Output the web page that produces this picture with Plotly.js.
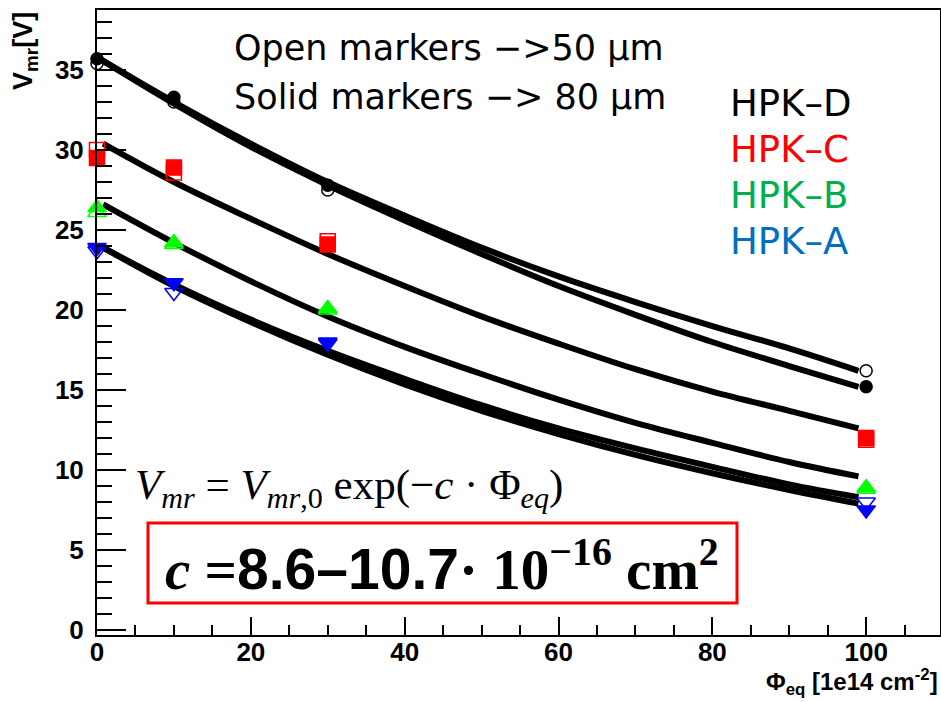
<!DOCTYPE html>
<html>
<head>
<meta charset="utf-8">
<script src="https://cdn.plot.ly/plotly-3.0.1.min.js"></script>
<style>html,body{margin:0;padding:0;background:#fff}#chart{width:941px;height:702px}</style>
</head>
<body>
<div id="chart"></div>
<script>
// Fluence points (1e14 cm^-2)
const fluence = [0, 10, 30, 100];
// Measured V_mr [V]: open markers = 50 um, solid markers = 80 um
const dOpen  = [35.4, 33.0, 27.5, 16.2];
const dSolid = [35.7, 33.3, 27.8, 15.2];
const cOpen  = [30.0, 28.6, 24.3, 11.9];
const cSolid = [29.5, 28.9, 24.1, 12.0];
const bOpen  = [26.1, 24.1, 20.0, 8.8];
const bSolid = [26.4, 24.2, 20.1, 8.9];
const aOpen  = [23.7, 21.1, 17.9, 8.0];
const aSolid = [23.9, 21.7, 18.0, 7.5];

// Fit curves
const fitXD = [0, 10, 20, 30, 40, 50, 60, 70, 80, 90, 99];
const fitX  = [0.8, 10, 20, 30, 40, 50, 60, 70, 80, 90, 99];
const fitDOpen  = [35.8, 33.0, 30.4, 28.0, 25.9, 23.9, 22.1, 20.5, 19.0, 17.6, 16.2];
const fitDSolid = [35.8, 32.9, 30.2, 27.8, 25.6, 23.5, 21.5, 19.7, 18.0, 16.5, 15.2];
const fitC      = [30.4, 28.0, 25.7, 23.5, 21.5, 19.6, 17.9, 16.3, 14.9, 13.7, 12.6];
const fitB      = [26.6, 24.2, 21.8, 19.6, 17.7, 16.0, 14.4, 12.95, 11.7, 10.5, 9.6];
const fitAOpen  = [23.9, 21.6, 19.4, 17.45, 15.7, 14.05, 12.6, 11.35, 10.2, 9.1, 8.3];
const fitASolid = [23.9, 21.5, 19.25, 17.2, 15.35, 13.7, 12.25, 10.95, 9.8, 8.75, 7.9];

const sensorNames = ['HPK–D', 'HPK–C', 'HPK–B', 'HPK–A'];
const sensorTextColors = ['#000000', '#ff0000', '#00b050', '#0070c0'];

function fit(x, y) {
  return {x: x, y: y, type: 'scatter', mode: 'lines', line: {color: '#000', width: 6, shape: 'spline'},
          hoverinfo: 'skip', showlegend: false, cliponaxis: false};
}
function pts(y, symbol, color, size) {
  return {x: fluence, y: y, type: 'scatter', mode: 'markers', cliponaxis: false, showlegend: false,
          marker: {symbol: symbol, color: color, size: size, line: {color: color, width: 1.5}}};
}

const traces = [
  fit(fitXD, fitDOpen), fit(fitXD, fitDSolid), fit(fitX, fitC), fit(fitX, fitB),
  fit(fitX, fitAOpen), fit(fitX, fitASolid),
  pts(dOpen, 'circle-open', '#000', 12),
  pts(cOpen, 'square-open', '#ff0000', 15),
  pts(bOpen, 'triangle-up-open', '#00ff00', 16),
  pts(aOpen, 'triangle-down-open', '#0000ff', 16),
  pts(dSolid, 'circle', '#000', 12),
  pts(cSolid, 'square', '#ff0000', 15),
  pts(bSolid, 'triangle-up', '#00ff00', 16),
  pts(aSolid, 'triangle-down', '#0000ff', 16)
];

const L = 97, R = 940, T = 10, B = 635;
const W = R - L, H = B - T;
function px(x) { return (x - L) / W; }
function py(y) { return (B - y) / H; }

const annotations = [
  {text: 'Open markers −>50 µm', x: px(232), y: py(48), xanchor: 'left', yanchor: 'middle',
   font: {family: 'DejaVu Sans', size: 35, color: '#000'}},
  {text: 'Solid markers −> 80 µm', x: px(232), y: py(97), xanchor: 'left', yanchor: 'middle',
   font: {family: 'DejaVu Sans', size: 35, color: '#000'}},
  {text: '<i>V</i><sub><i>mr</i></sub> = <i>V</i><sub><i>mr</i>,0</sub> exp(−<i>c</i> · Φ<sub><i>eq</i></sub>)',
   x: px(133), y: py(488), xanchor: 'left', yanchor: 'middle',
   font: {family: 'Liberation Serif', size: 43, color: '#000'}},
  {text: '<b><i>c</i> =</b><span style="font-family:\'Liberation Sans\'"><b>8.6–10.7</b></span><b>· 10<sup>−16</sup> cm<sup>2</sup></b>',
   x: px(442), y: py(565), xanchor: 'center', yanchor: 'middle',
   font: {family: 'Liberation Serif', size: 57, color: '#000'}},
  {text: '<b>V<sub>mr</sub>[V]</b>', x: px(25), y: py(10), xanchor: 'center', yanchor: 'top', textangle: -90,
   font: {family: 'Liberation Sans', size: 27, color: '#000'}},
  {text: '<b>Φ<sub>eq</sub> [1e14 cm<sup>-2</sup>]</b>', x: px(940), y: py(682), xanchor: 'right', yanchor: 'middle',
   font: {family: 'Liberation Sans', size: 24, color: '#000'}}
];
const legendY = [103, 150, 196, 241];
sensorNames.forEach((n, i) => {
  annotations.push({text: n, x: px(728), y: py(legendY[i]), xanchor: 'left', yanchor: 'middle',
    font: {family: 'DejaVu Sans', size: 37, color: sensorTextColors[i]}});
});
annotations.forEach(a => { a.xref = 'paper'; a.yref = 'paper'; a.showarrow = false; });

const layout = {
  width: 941, height: 702,
  margin: {l: L, r: 941 - R, t: T, b: 702 - B, pad: 0},
  paper_bgcolor: '#fff', plot_bgcolor: '#fff',
  showlegend: false,
  xaxis: {range: [0, 109.6], showgrid: false, zeroline: false, showline: true, mirror: true,
          linecolor: '#000', linewidth: 2, ticks: 'inside', ticklen: 18, tickwidth: 2, tickcolor: '#000',
          tick0: 0, dtick: 20, ticklabelstandoff: -7,
          minor: {ticks: 'inside', dtick: 5, ticklen: 10, tickwidth: 2, tickcolor: '#000', showgrid: false},
          tickfont: {family: 'Liberation Sans', size: 26, color: '#000', weight: 'bold'}},
  yaxis: {range: [-0.31, 38.75], showgrid: false, zeroline: false, showline: true, mirror: true,
          linecolor: '#000', linewidth: 2, ticks: 'inside', ticklen: 29, tickwidth: 2, tickcolor: '#000',
          tick0: 0, dtick: 5, ticklabelstandoff: 6,
          minor: {ticks: 'inside', dtick: 1, ticklen: 15, tickwidth: 2, tickcolor: '#000', showgrid: false},
          tickfont: {family: 'Liberation Sans', size: 26, color: '#000', weight: 'bold'}},
  shapes: [{type: 'rect', xref: 'paper', yref: 'paper', x0: px(148), x1: px(737), y0: py(603), y1: py(523),
            line: {color: '#ff0000', width: 3}, fillcolor: 'rgba(0,0,0,0)'}],
  annotations: annotations
};

Plotly.newPlot('chart', traces, layout, {displayModeBar: false, staticPlot: true});
</script>
</body>
</html>
